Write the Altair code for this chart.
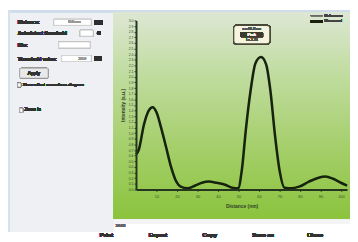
import altair as alt
import pandas as pd

# ---- data ----
distance = [0, 1.4, 3.8, 6.2, 8.1, 10.0, 12.3, 14.7, 17.1, 19.4, 21.8, 25.1, 28.9, 32.2,
            35.5, 39.3, 43.1, 46.9, 49.8, 51.7, 53.6, 55.9, 58.3, 61.0, 63.5, 65.6, 67.8,
            70.1, 72.5, 75.8, 79.6, 84.4, 89.1, 92.4, 96.2, 100.0, 103.0]
intensity = [0.62, 0.71, 1.14, 1.40, 1.46, 1.37, 1.09, 0.75, 0.40, 0.16, 0.05, 0.02, 0.07,
             0.12, 0.14, 0.12, 0.09, 0.03, 0.02, 0.36, 1.06, 1.75, 2.24, 2.35, 2.22, 1.75,
             0.97, 0.33, 0.03, 0.02, 0.05, 0.14, 0.21, 0.23, 0.19, 0.12, 0.07]
x_ticks = [10, 20, 30, 40, 50, 60, 70, 80, 90, 100]
y_ticks = [round(i * 0.1, 1) for i in range(31)]

ui_labels = ["Distance:", "Autodetect threshold", "Min:", "Threshold value:", "Apply",
             "Show offset corrections diagram", "Zoom in"]
toolbar_labels = ["Print", "Export", "Copy", "Save as", "Close"]
legend_labels = ["Reference", "Measured"]
note_lines = ["x = 61.0 nm", "Peak", "I = 2.35"]

df = pd.DataFrame({"d": distance, "i": intensity})

OX, OY = 139, 18  # plot origin in page pixels


def P(px, py):
    return px - OX, py - OY


def rect(x1, y1, x2, y2, **kw):
    a, b = P(x1, y1)
    c, d = P(x2, y2)
    return alt.Chart(df).mark_rect(**kw).encode(
        x=alt.value(a), x2=alt.value(c), y=alt.value(b), y2=alt.value(d))


def text(t, px, py, **kw):
    a, b = P(px, py)
    return alt.Chart(df).mark_text(text=t, **kw).encode(x=alt.value(a), y=alt.value(b))


def hline(x1, x2, py, color, w):
    a, b = P(x1, py)
    c, _ = P(x2, py)
    return alt.Chart(df).mark_rule(color=color, strokeWidth=w).encode(
        x=alt.value(a), x2=alt.value(c), y=alt.value(b))


layers = []
# left UI panel
layers.append(rect(8, 8, 116, 234, color="#eef0f3"))
layers.append(rect(8, 8, 358, 10, color="#cfdcec"))
layers.append(rect(8, 8, 10, 234, color="#d6e2f0"))

# green panel
grad = alt.Gradient(gradient="linear",
                    stops=[alt.GradientStop(color="#dde7d3", offset=0),
                           alt.GradientStop(color="#c0dc9f", offset=0.3),
                           alt.GradientStop(color="#a5cf6b", offset=0.65),
                           alt.GradientStop(color="#8ac33c", offset=1)],
                    x1=0, x2=0, y1=0, y2=1)
layers.append(rect(116, 10, 358, 222, color=grad))
layers.append(rect(116, 222, 358, 226, color="#f4f4f6"))

ui_font = dict(font="Liberation Sans", fontSize=5, color="#333333", align="left", baseline="middle")
# row 1
layers.append(text(ui_labels[0], 18, 20, fontWeight="bold", **ui_font))
layers.append(rect(55, 17, 93, 23, color="#ffffff", stroke="#c4c4c4", strokeWidth=0.6))
layers.append(text("0.0 nm", 70, 20, font="Liberation Sans", fontSize=4, color="#999999", align="left", baseline="middle"))
layers.append(rect(96, 18, 105, 22, color="#2e2e2e"))
# row 2
layers.append(text(ui_labels[1], 18, 31, fontWeight="bold", **ui_font))
layers.append(rect(82, 28, 95, 34, color="#ffffff", stroke="#c4c4c4", strokeWidth=0.6))
layers.append(rect(99, 29, 103, 33, color="#2e2e2e", cornerRadius=2))
# row 3
layers.append(text(ui_labels[2], 18, 43, fontWeight="bold", **ui_font))
layers.append(rect(60, 40, 92, 46, color="#ffffff", stroke="#c4c4c4", strokeWidth=0.6))
# row 4
layers.append(text(ui_labels[3], 18, 57, fontWeight="bold", **ui_font))
layers.append(rect(63, 54, 93, 60, color="#ffffff", stroke="#c4c4c4", strokeWidth=0.6))
layers.append(text("25.0", 80, 57, font="Liberation Sans", fontSize=4, color="#999999", align="left", baseline="middle"))
layers.append(rect(96, 55, 104, 59, color="#2e2e2e"))
# button
layers.append(rect(20, 67, 49, 77, color="#e9e9e9", stroke="#999999", strokeWidth=0.6, cornerRadius=1.5))
layers.append(text(ui_labels[4], 34.5, 72, font="Liberation Sans", fontSize=5, color="#333333", align="center", baseline="middle"))
# checkbox 1
layers.append(rect(18, 82, 21, 86, color="#ffffff", stroke="#888888", strokeWidth=0.5))
layers.append(text(ui_labels[5], 23, 84, font="Liberation Sans", fontSize=4.4, color="#333333", align="left", baseline="middle"))
# checkbox 2
layers.append(rect(20, 108, 23, 112, color="#ffffff", stroke="#888888", strokeWidth=0.5))
layers.append(text(ui_labels[6], 25, 110, font="Liberation Sans", fontSize=4.6, color="#333333", align="left", baseline="middle"))

# bottom text & toolbar
layers.append(text("14:52", 118, 228, font="Liberation Sans", fontSize=4, color="#666666", align="left", baseline="middle"))
for lbl, px in zip(toolbar_labels, [102, 152, 207, 258, 314]):
    layers.append(text(lbl, px, 238, font="Liberation Sans", fontSize=6, fontWeight="bold",
                       color="#333333", align="left", baseline="middle"))

# main curve
line = alt.Chart(df).mark_line(color="#16230e", strokeWidth=2.6, interpolate="monotone").encode(
    x=alt.X("d:Q", scale=alt.Scale(domain=[0, 103], nice=False, zero=False),
            axis=alt.Axis(values=x_ticks, title="Distance (nm)", grid=False, zindex=1,
                          labelFontSize=4, labelColor="#3a4a2e", titleFontSize=5,
                          titleColor="#2f3f26", titlePadding=5, tickColor="#2f3f26",
                          domainColor="#26351d", domainWidth=2, tickSize=2, labelPadding=3)),
    y=alt.Y("i:Q", scale=alt.Scale(domain=[0, 3.0], nice=False),
            axis=alt.Axis(values=y_ticks, format=".1f", title="Intensity (a.u.)", grid=False,
                          zindex=1, labelFontSize=3.6, labelColor="#3a4a2e", labelOverlap=False,
                          titleFontSize=5, titleColor="#2f3f26", titlePadding=3,
                          tickColor="#2f3f26", domainColor="#26351d", domainWidth=2,
                          tickSize=2, labelPadding=1)),
)
layers.append(line)

# legend (top right)
layers.append(hline(318, 330, 13, "#6a6a6a", 1))
layers.append(text(legend_labels[0], 332, 13, font="Liberation Sans", fontSize=4, color="#444444", align="left", baseline="middle"))
layers.append(hline(318, 330, 19, "#16230e", 2.4))
layers.append(text(legend_labels[1], 332, 19, font="Liberation Sans", fontSize=4, color="#444444", align="left", baseline="middle"))

# annotation box
layers.append(rect(239, 23, 276, 42, color="#f6f3df", stroke="#4a4a3a", strokeWidth=1.2, cornerRadius=3))
layers.append(text(note_lines[0], 257.5, 27, font="Liberation Sans", fontSize=3.6, color="#555555", align="center", baseline="middle"))
layers.append(rect(246, 30, 269, 35, color="#3b3b30"))
layers.append(text(note_lines[1], 257.5, 32.5, font="Liberation Sans", fontSize=3.6, color="#f0f0e0", align="center", baseline="middle"))
layers.append(text(note_lines[2], 257.5, 38.5, font="Liberation Sans", fontSize=3.6, color="#555555", align="center", baseline="middle"))

chart = alt.layer(*layers).properties(
    width=216, height=173, autosize="none",
    padding={"left": 131, "top": 10, "right": 3, "bottom": 51},
    background="#ffffff",
).configure_view(stroke=None)

chart.save("out.html", embed_options={"renderer": "svg", "actions": False})
